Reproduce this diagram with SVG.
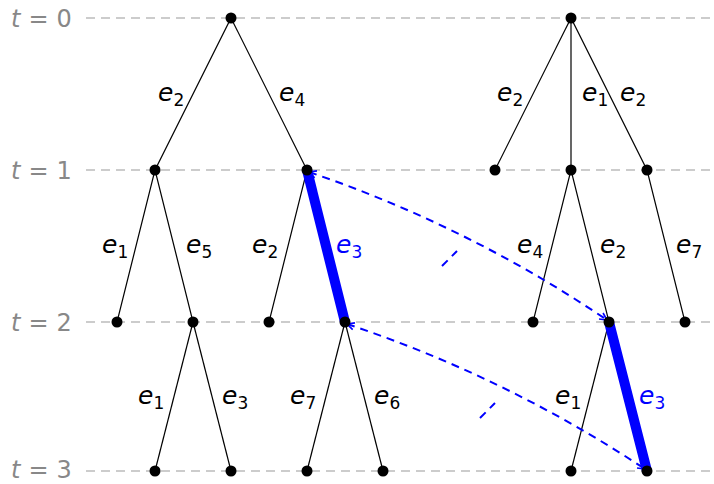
<svg xmlns="http://www.w3.org/2000/svg" width="714" height="484" viewBox="0 0 714 484">
<style>
.grid{stroke:#999;stroke-width:1.2;stroke-dasharray:9 6;fill:none}
.edge{stroke:#000;stroke-width:1.2;fill:none}
.hl{stroke:#0000ff;stroke-width:10;stroke-linecap:round;fill:none}
.arr{stroke:#0000ff;stroke-width:2;stroke-dasharray:8 6;fill:none}
.dot{fill:#000}
.lbl{font-family:"DejaVu Sans",sans-serif;font-size:25px;fill:#000}
.lbl .v{font-style:italic}
.lbl .s{font-size:17px}
.blue{fill:#0000ff}
.tl{font-family:"DejaVu Sans",sans-serif;font-size:24px;fill:#888}
</style>
<defs>
<marker id="ah" viewBox="0 0 10 10" refX="9" refY="5" markerWidth="9" markerHeight="9" orient="auto-start-reverse" markerUnits="userSpaceOnUse">
<path d="M1,1 L9,5 L1,9" fill="none" stroke="#0000ff" stroke-width="1.8"/>
</marker>
</defs>
<g id="timeline">
<line class="grid" x1="86" y1="18" x2="714" y2="18"/>
<line class="grid" x1="86" y1="170" x2="714" y2="170"/>
<line class="grid" x1="86" y1="322" x2="714" y2="322"/>
<line class="grid" x1="86" y1="471" x2="714" y2="471"/>
<text class="tl" x="11" y="27"><tspan font-style="italic">t</tspan><tspan dx="8">=</tspan><tspan dx="8">0</tspan></text>
<text class="tl" x="11" y="179"><tspan font-style="italic">t</tspan><tspan dx="8">=</tspan><tspan dx="8">1</tspan></text>
<text class="tl" x="11" y="331"><tspan font-style="italic">t</tspan><tspan dx="8">=</tspan><tspan dx="8">2</tspan></text>
<text class="tl" x="11" y="478"><tspan font-style="italic">t</tspan><tspan dx="8">=</tspan><tspan dx="8">3</tspan></text>
</g>
<g id="edges">
<line class="edge" x1="231" y1="18" x2="155" y2="170"/>
<line class="edge" x1="231" y1="18" x2="307" y2="170"/>
<line class="edge" x1="155" y1="170" x2="117" y2="322"/>
<line class="edge" x1="155" y1="170" x2="193" y2="322"/>
<line class="edge" x1="307" y1="170" x2="269" y2="322"/>
<line class="edge" x1="193" y1="322" x2="155" y2="471"/>
<line class="edge" x1="193" y1="322" x2="231" y2="471"/>
<line class="edge" x1="345" y1="322" x2="307" y2="471"/>
<line class="edge" x1="345" y1="322" x2="383" y2="471"/>
<line class="edge" x1="571" y1="18" x2="495" y2="170"/>
<line class="edge" x1="571" y1="18" x2="571" y2="170"/>
<line class="edge" x1="571" y1="18" x2="647" y2="170"/>
<line class="edge" x1="571" y1="170" x2="533" y2="322"/>
<line class="edge" x1="571" y1="170" x2="609" y2="322"/>
<line class="edge" x1="647" y1="170" x2="685" y2="322"/>
<line class="edge" x1="609" y1="322" x2="571" y2="471"/>
<line class="hl" x1="307" y1="170" x2="345" y2="322"/>
<line class="hl" x1="609" y1="322" x2="647" y2="471"/>
<path class="arr" d="M309,172 Q468,226 607,320" marker-start="url(#ah)" marker-end="url(#ah)"/>
<path class="arr" d="M347,324 Q506,377 645,469" marker-start="url(#ah)" marker-end="url(#ah)"/>
<line class="arr" x1="442" y1="266" x2="457" y2="251"/>
<line class="arr" x1="480" y1="418" x2="495" y2="403"/>
</g>
<g id="nodes">
<circle id="n0" class="dot" cx="231" cy="18" r="5.5"/>
<circle id="n1" class="dot" cx="155" cy="170" r="5.5"/>
<circle id="n2" class="dot" cx="307" cy="170" r="5.5"/>
<circle id="n3" class="dot" cx="117" cy="322" r="5.5"/>
<circle id="n4" class="dot" cx="193" cy="322" r="5.5"/>
<circle id="n5" class="dot" cx="269" cy="322" r="5.5"/>
<circle id="n6" class="dot" cx="345" cy="322" r="5.5"/>
<circle id="n7" class="dot" cx="155" cy="471" r="5.5"/>
<circle id="n8" class="dot" cx="231" cy="471" r="5.5"/>
<circle id="n9" class="dot" cx="307" cy="471" r="5.5"/>
<circle id="n10" class="dot" cx="383" cy="471" r="5.5"/>
<circle id="m0" class="dot" cx="571" cy="18" r="5.5"/>
<circle id="m1" class="dot" cx="495" cy="170" r="5.5"/>
<circle id="m2" class="dot" cx="571" cy="170" r="5.5"/>
<circle id="m3" class="dot" cx="647" cy="170" r="5.5"/>
<circle id="m4" class="dot" cx="533" cy="322" r="5.5"/>
<circle id="m5" class="dot" cx="609" cy="322" r="5.5"/>
<circle id="m6" class="dot" cx="685" cy="322" r="5.5"/>
<circle id="m7" class="dot" cx="571" cy="471" r="5.5"/>
<circle id="m8" class="dot" cx="647" cy="471" r="5.5"/>
</g>
<g id="labels">
<text class="lbl" x="158" y="101"><tspan class="v">e</tspan><tspan class="s" dy="5">2</tspan></text>
<text class="lbl" x="279" y="101"><tspan class="v">e</tspan><tspan class="s" dy="5">4</tspan></text>
<text class="lbl" x="102" y="253"><tspan class="v">e</tspan><tspan class="s" dy="5">1</tspan></text>
<text class="lbl" x="186" y="253"><tspan class="v">e</tspan><tspan class="s" dy="5">5</tspan></text>
<text class="lbl" x="252" y="253"><tspan class="v">e</tspan><tspan class="s" dy="5">2</tspan></text>
<text class="lbl blue" x="336" y="253"><tspan class="v">e</tspan><tspan class="s" dy="5">3</tspan></text>
<text class="lbl" x="138" y="404"><tspan class="v">e</tspan><tspan class="s" dy="5">1</tspan></text>
<text class="lbl" x="222" y="404"><tspan class="v">e</tspan><tspan class="s" dy="5">3</tspan></text>
<text class="lbl" x="290" y="404"><tspan class="v">e</tspan><tspan class="s" dy="5">7</tspan></text>
<text class="lbl" x="374" y="404"><tspan class="v">e</tspan><tspan class="s" dy="5">6</tspan></text>
<text class="lbl" x="497" y="101"><tspan class="v">e</tspan><tspan class="s" dy="5">2</tspan></text>
<text class="lbl" x="582" y="101"><tspan class="v">e</tspan><tspan class="s" dy="5">1</tspan></text>
<text class="lbl" x="620" y="101"><tspan class="v">e</tspan><tspan class="s" dy="5">2</tspan></text>
<text class="lbl" x="517" y="253"><tspan class="v">e</tspan><tspan class="s" dy="5">4</tspan></text>
<text class="lbl" x="600" y="253"><tspan class="v">e</tspan><tspan class="s" dy="5">2</tspan></text>
<text class="lbl" x="676" y="253"><tspan class="v">e</tspan><tspan class="s" dy="5">7</tspan></text>
<text class="lbl" x="555" y="404"><tspan class="v">e</tspan><tspan class="s" dy="5">1</tspan></text>
<text class="lbl blue" x="639" y="404"><tspan class="v">e</tspan><tspan class="s" dy="5">3</tspan></text>
</g>
</svg>
